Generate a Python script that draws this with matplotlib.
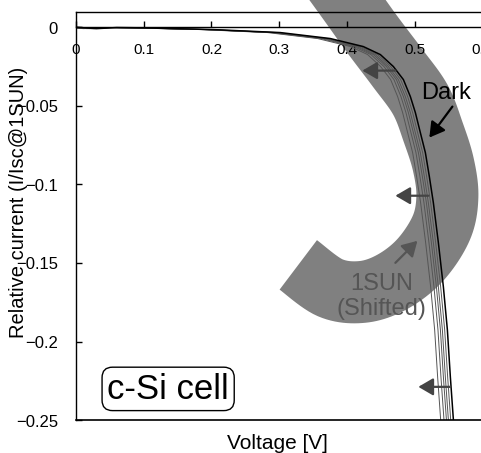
import matplotlib
matplotlib.use("Agg")
import matplotlib.pyplot as plt
from matplotlib.patches import Polygon
from matplotlib.transforms import IdentityTransform
import numpy as np

plt.rcParams['font.family'] = ['Liberation Sans', 'DejaVu Sans']

# dark I-V curve (voltage [V], relative current)
volt_dark = np.array([0.0, 0.03, 0.06, 0.099, 0.2025, 0.3016, 0.3755, 0.4242, 0.4494,
                      0.4686, 0.4834, 0.4937, 0.5011, 0.5085, 0.5159, 0.5218, 0.5277,
                      0.5351, 0.5425, 0.5484, 0.5528, 0.5573, 0.5602])
curr_dark = np.array([0.0, -0.0009, -0.0002, -0.0004, -0.0015, -0.0034, -0.0072, -0.0123,
                      -0.0174, -0.025, -0.0333, -0.0441, -0.0543, -0.0671, -0.0798, -0.0951,
                      -0.1117, -0.1371, -0.1652, -0.1925, -0.2225, -0.2499, -0.2658])

# voltage shifts of the 1SUN curves relative to the dark one
shift_1sun = [-0.004, -0.0074, -0.0103, -0.0139, -0.0188]

# grey hook-shaped band (centre line, data coords)
band_x = [0.3577, 0.4006, 0.4375, 0.4745, 0.5085, 0.5277, 0.5425, 0.5484, 0.5395,
          0.5085, 0.4671, 0.4228, 0.3755, 0.3282]
band_y = [0.0431, 0.0176, -0.0046, -0.0257, -0.0461, -0.0671, -0.0875, -0.1078, -0.1276,
          -0.148, -0.162, -0.1684, -0.1658, -0.1512]

# shift arrows (start x, end x, y)
shift_arrows = [(0.4716, 0.4228, -0.0276),
                (0.5203, 0.4716, -0.1072),
                (0.5528, 0.5055, -0.2288)]

xticks = [0, 0.1, 0.2, 0.3, 0.4, 0.5, 0.6]
xticklabels = ['0', '0.1', '0.2', '0.3', '0.4', '0.5', '0.6']
yticks = [-0.25, -0.2, -0.15, -0.1, -0.05, 0]
yticklabels = ['\u22120.25', '\u22120.2', '\u22120.15', '\u22120.1', '\u22120.05', '0']

fig = plt.figure(figsize=(4.814, 4.534), dpi=100)
ax = fig.add_axes([0.158, 0.0724, 0.8439, 0.8996])
ax.set_xlim(0, 0.6)
ax.set_ylim(-0.25, 0.0095)

# band: smooth the centre line in pixel space and offset it to a fixed width
P = ax.transData.transform(np.column_stack([band_x, band_y]))
pts = []
for i in range(len(P) - 1):
    p0, p1 = P[max(i - 1, 0)], P[i]
    p2, p3 = P[i + 1], P[min(i + 2, len(P) - 1)]
    for t in np.linspace(0, 1, 12, endpoint=False):
        pts.append(0.5 * (2 * p1 + (p2 - p0) * t
                          + (2 * p0 - 5 * p1 + 4 * p2 - p3) * t ** 2
                          + (3 * p1 - p0 - 3 * p2 + p3) * t ** 3))
pts.append(P[-1])
C = np.array(pts)
d = np.gradient(C, axis=0)
nrm = np.column_stack([-d[:, 1], d[:, 0]])
nrm /= np.hypot(nrm[:, 0], nrm[:, 1])[:, None]
half = 31
outline = np.vstack([C + half * nrm, (C - half * nrm)[::-1]])
band = Polygon(outline, closed=True, transform=IdentityTransform(),
               fc='#808080', ec='none', zorder=0.5)
ax.add_patch(band)
band.set_clip_on(False)

# curves
for s in shift_1sun:
    ax.plot(volt_dark + s, curr_dark, color='#555555', lw=0.7, zorder=2)
ax.plot(volt_dark, curr_dark, color='black', lw=1.1, zorder=2.2)

arrow_style = '-|>,head_length=0.6,head_width=0.35'
for x0, x1, y in shift_arrows:
    ax.annotate('', xy=(x1, y), xytext=(x0, y),
                arrowprops=dict(arrowstyle=arrow_style, color='#444444', lw=1.6,
                                mutation_scale=15, shrinkA=0, shrinkB=0), zorder=3)

ax.annotate('', xy=(0.5218, -0.0702), xytext=(0.5558, -0.0505),
            arrowprops=dict(arrowstyle=arrow_style, color='black', lw=1.6,
                            mutation_scale=15, shrinkA=0, shrinkB=0), zorder=3)
ax.text(0.5469, -0.0416, 'Dark', fontsize=17, ha='center', va='center', zorder=3)

ax.annotate('', xy=(0.5041, -0.1359), xytext=(0.4716, -0.1499),
            arrowprops=dict(arrowstyle=arrow_style, color='#555555', lw=1.6,
                            mutation_scale=15, shrinkA=0, shrinkB=0), zorder=3)
ax.text(0.4508, -0.1709, '1SUN\n(Shifted)', fontsize=17, color='#555555',
        ha='center', va='center', linespacing=1.15, zorder=3)

ax.text(0.136, -0.2301, 'c-Si cell', fontsize=25, ha='center', va='center',
        bbox=dict(boxstyle='round,pad=0.15,rounding_size=0.3', fc='white',
                  ec='black', lw=1.0), zorder=3)

# x axis drawn along zero current, frame line kept at the bottom
ax.spines['bottom'].set_position(('data', 0))
ax.axhline(-0.25, color='black', lw=1.2, clip_on=False, zorder=2.5)
for sp in ax.spines.values():
    sp.set_linewidth(1.0)

ax.set_xticks(xticks)
ax.set_xticklabels(xticklabels)
ax.set_yticks(yticks)
ax.set_yticklabels(yticklabels)
ax.tick_params(axis='x', direction='in', length=4, width=1, pad=11, labelsize=11)
ax.tick_params(axis='y', direction='in', length=4, width=1, pad=13, labelsize=12)

ax.set_xlabel('Voltage [V]', fontsize=15, va='center')
ax.xaxis.set_label_coords(0.495, -0.0557)
ax.set_ylabel('Relative current (I/Isc@1SUN)', fontsize=14.5, va='center')
ax.yaxis.set_label_coords(-0.142, 0.5356)

fig.savefig('out.png', dpi=100)
